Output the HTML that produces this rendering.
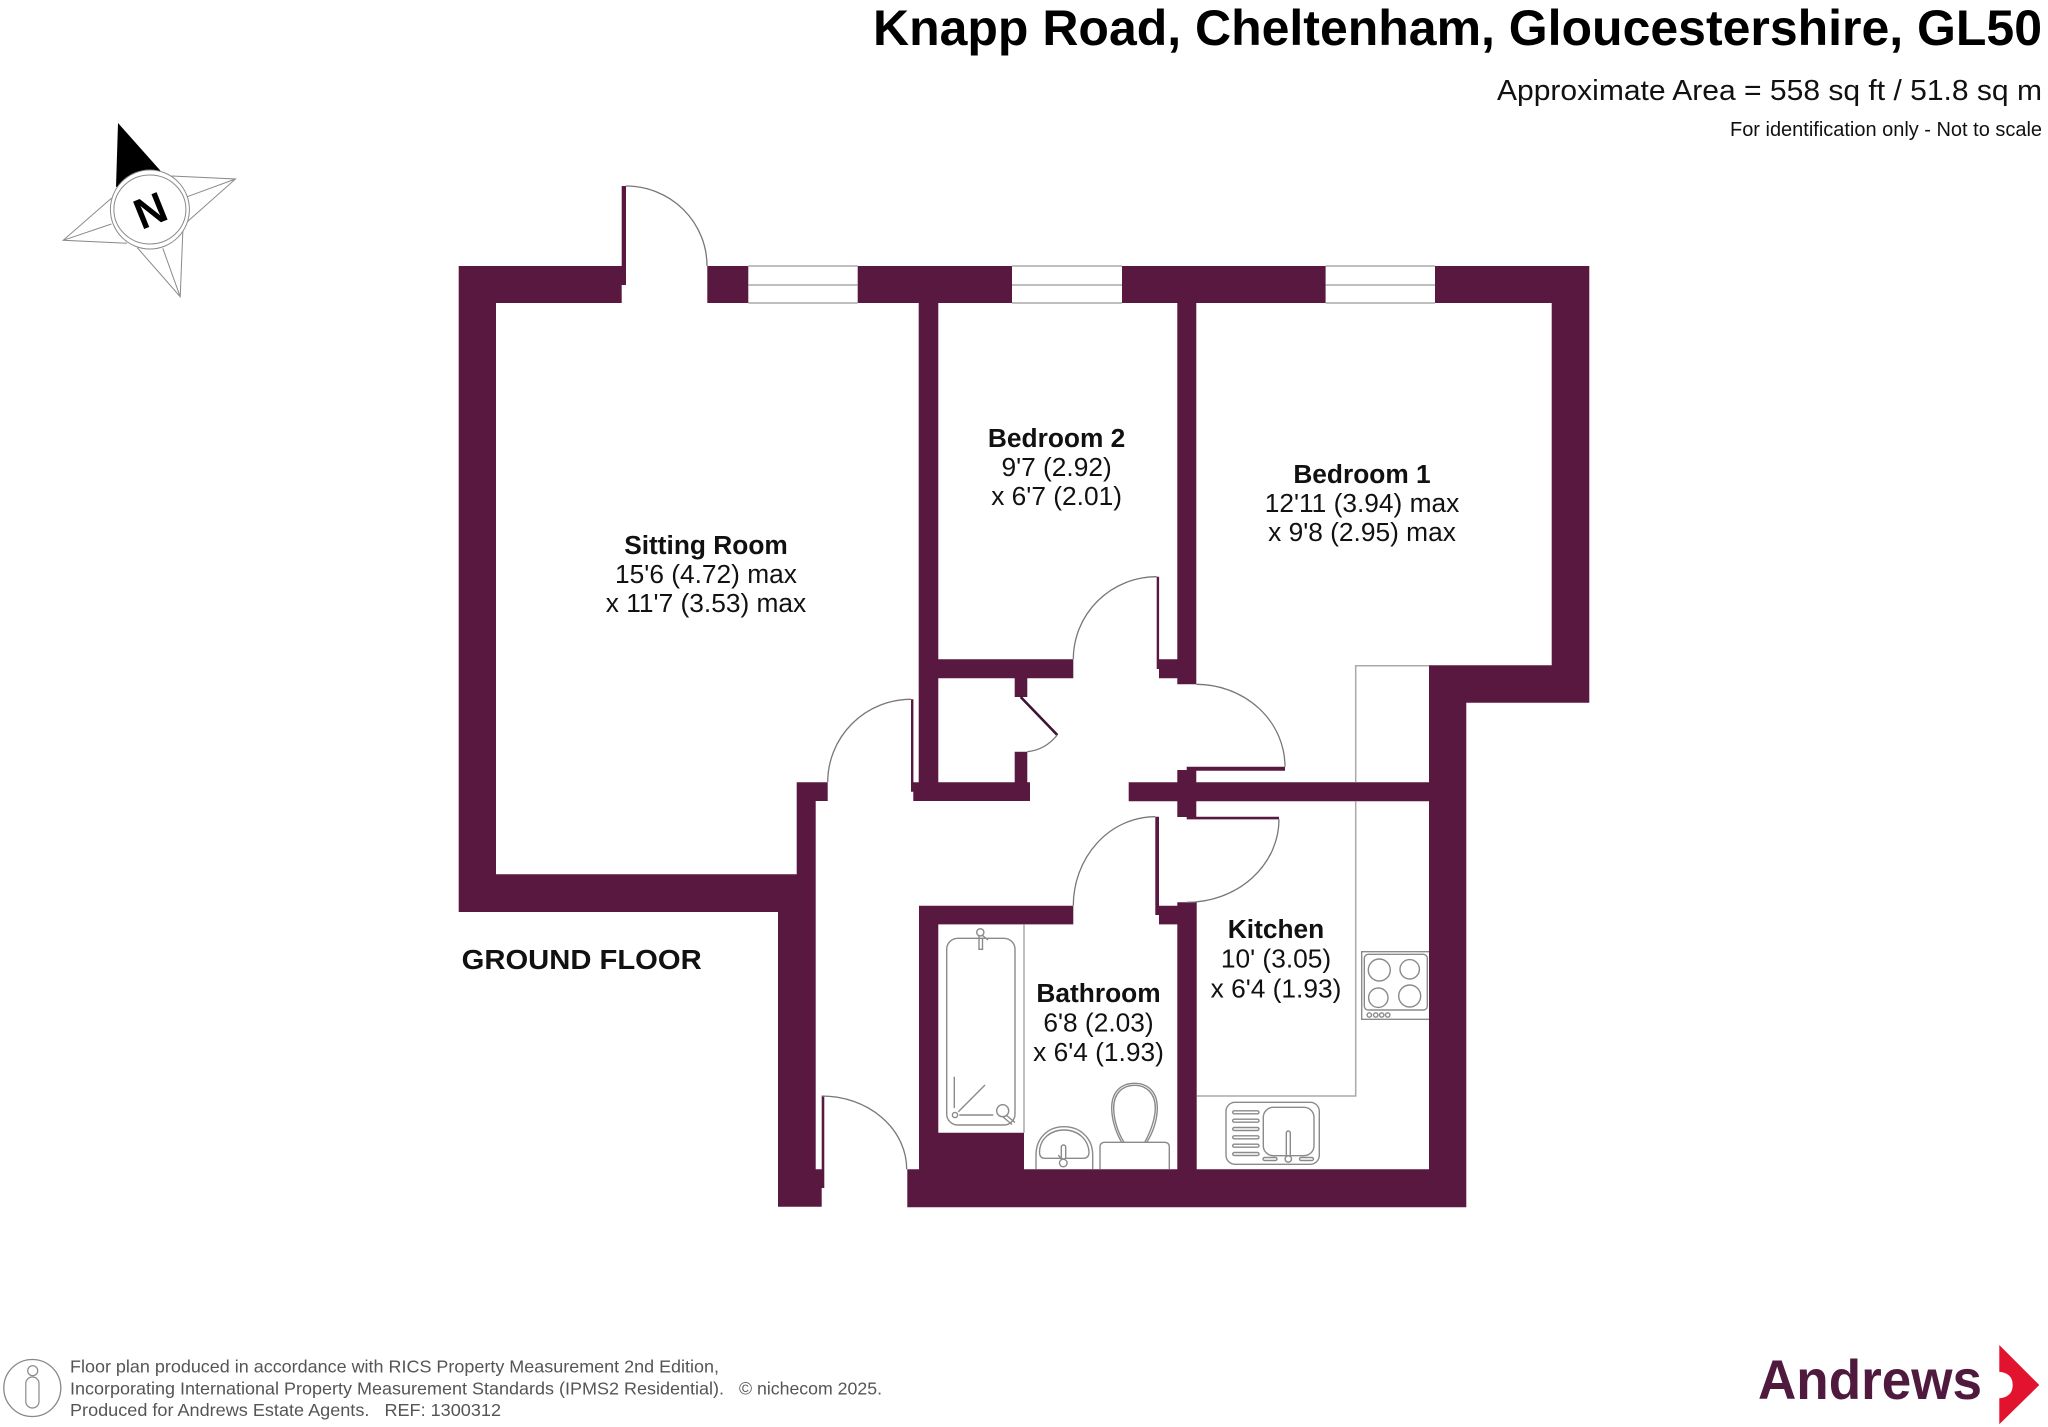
<!DOCTYPE html>
<html lang="en">
<head>
<meta charset="utf-8">
<title>Knapp Road floor plan</title>
<style>
html,body{margin:0;padding:0;background:#fff;width:2048px;height:1427px;overflow:hidden}
svg{display:block}
text{font-family:"Liberation Sans",Arial,sans-serif;fill:#111}
.b{font-weight:700}
.r{font-size:26.3px;text-anchor:middle}
.f{font-size:17.6px;fill:#555}
.w{fill:#59183f}
.t{fill:none;stroke:#999;stroke-width:1.3}
.a{fill:none;stroke:#777;stroke-width:1.3}
.k{fill:none;stroke:#8a8a8a;stroke-width:1.4}
</style>
</head>
<body>
<svg width="2048" height="1427" viewBox="0 0 2048 1427" xmlns="http://www.w3.org/2000/svg">
<rect width="2048" height="1427" fill="#fff"/>

<!-- Header -->
<text class="b" x="873" y="45" font-size="50" textLength="1169" lengthAdjust="spacingAndGlyphs" style="fill:#000">Knapp Road, Cheltenham, Gloucestershire, GL50</text>
<text x="1497" y="100" font-size="29" textLength="545" lengthAdjust="spacingAndGlyphs">Approximate Area = 558 sq ft / 51.8 sq m</text>
<text x="1730" y="136" font-size="20" textLength="312" lengthAdjust="spacingAndGlyphs">For identification only - Not to scale</text>

<!-- Compass -->
<g fill="none" stroke="#8a8a8a" stroke-width="1">
<path d="M171.7,176 L235.5,179 L187.3,221.7 M187.3,196.7 L235.5,179"/>
<path d="M111.4,198.3 L63.2,240.3 L127,243.3 M111.4,224 L63.2,240.3"/>
<path d="M137.3,247.7 L180.2,296.7 L182.9,230 M162.8,248.3 L180.2,296.7"/>
</g>
<path d="M118,123 L160.5,170.7 L116,187 Z" fill="#000"/>
<ellipse cx="149.9" cy="209.5" rx="39.5" ry="39.5" fill="#fff" stroke="#8a8a8a" stroke-width="1"/>
<ellipse cx="149.9" cy="209.5" rx="36" ry="34.5" fill="#fff" stroke="#8a8a8a" stroke-width="1"/>
<text class="b" x="149.9" y="225.5" font-size="43" text-anchor="middle" transform="rotate(-22 149.9 209.5)" style="fill:#000">N</text>

<!-- Walls (single merged path) -->
<path class="w" d="
M458.7,266h163v37h-163z
M621.7,186h4.3v99h-4.3z
M458.7,266h37.3v646h-37.3z
M707.3,266h41v37h-41z
M857.7,266h154.3v37h-154.3z
M1122,266h203.6v37h-203.6z
M1435,266h154.3v37h-154.3z
M1551.7,266h37.6v436.7h-37.6z
M1429,665.3h160.3v37.4h-160.3z
M1429,665.3h37.3v542h-37.3z
M458.7,874.3h357v37.7h-357z
M778,874.3h37.7v332.4h-37.7z
M796.7,782.3h19v100h-19z
M796.7,782.3h31v18.7h-31z
M815,1169.3h6.7v37.4h-6.7z
M821.7,1096h2.6v92h-2.6z
M918.7,266h19.6v535h-19.6z
M938,659.3h135.3v19h-135.3z
M1014.7,678h12.6v19h-12.6z
M1014.7,751.7h12.6v31h-12.6z
M913.3,782.3h116.7v18.7h-116.7z
M911,699.3h2.4v92.4h-2.4z
M1177.3,266h19v418.3h-19z
M1159,659.3h20v19h-20z
M1156.7,576.7h2.4v92.3h-2.4z
M1128.7,782.3h300.6v19h-300.6z
M1177.3,770h19v47h-19z
M1186.7,766.7h98.3v4h-98.3z
M1186.7,816.7h92.3v2.7h-92.3z
M919,905.7h154.3v18.7h-154.3z
M919,905.7h19.3v300h-19.3z
M1155.3,816.7h3.7v98.3h-3.7z
M1159,905.7h20v18.7h-20z
M1177.3,902.3h19.4v304h-19.4z
M938,1132.7h86v37h-86z
M907.3,1169.3h559v38h-559z"/>
<path d="M1020.7,697 L1057.3,735" stroke="#3d1330" stroke-width="2.6" fill="none"/>

<!-- Windows -->
<path class="t" d="M748.3,266H857.7M748.3,285H857.7M748.3,303H857.7M1012,266H1122M1012,285H1122M1012,303H1122M1325.6,266H1435M1325.6,285H1435M1325.6,303H1435"/>

<!-- Door arcs -->
<g class="a">
<path d="M626,186 A81,80 0 0 1 707,266"/>
<path d="M911,699.3 A83.3,83 0 0 0 827.7,782.3"/>
<path d="M1156.7,576.7 A83.4,82.6 0 0 0 1073.3,659.3"/>
<path d="M1196.3,684.3 A88.7,82.4 0 0 1 1285,766.7"/>
<path d="M1279,819.3 A92,83 0 0 1 1187,902.3"/>
<path d="M1155.3,816.7 A82,89 0 0 0 1073.3,905.7"/>
<path d="M821.7,1096 A85,73.3 0 0 1 906.7,1169.3"/>
<path d="M1057.3,735 Q1045,750 1027.3,751.7"/>
</g>

<!-- Kitchen counter lines -->
<path d="M1429,665.7H1355.7V782.3M1355.7,801V1096H1196.7M1024,924.3V1132.7" fill="none" stroke="#aaa" stroke-width="1.5"/>

<!-- Hob -->
<g class="k">
<path d="M1429,951.7H1361.7V1019.3H1429"/>
<rect x="1364.3" y="954.3" width="63" height="55.7" rx="4"/>
<circle cx="1379.3" cy="970" r="11"/>
<circle cx="1409.7" cy="969.3" r="9.7"/>
<circle cx="1378.3" cy="997.7" r="9.7"/>
<circle cx="1409.7" cy="996" r="11"/>
<circle cx="1369.3" cy="1015" r="2.2"/>
<circle cx="1375.7" cy="1015" r="2.2"/>
<circle cx="1381.7" cy="1015" r="2.2"/>
<circle cx="1387.7" cy="1015" r="2.2"/>
</g>

<!-- Kitchen sink -->
<g class="k">
<rect x="1226" y="1102.3" width="93.3" height="62" rx="9"/>
<rect x="1263.3" y="1107.3" width="50.7" height="48.4" rx="10"/>
<rect x="1232.7" y="1110.8" width="26.3" height="3" rx="1.5"/>
<rect x="1232.7" y="1119.2" width="26.3" height="3" rx="1.5"/>
<rect x="1232.7" y="1127.5" width="26.3" height="3" rx="1.5"/>
<rect x="1232.7" y="1135.8" width="26.3" height="3" rx="1.5"/>
<rect x="1232.7" y="1144.2" width="26.3" height="3" rx="1.5"/>
<rect x="1232.7" y="1152.5" width="26.3" height="3" rx="1.5"/>
<rect x="1286.3" y="1131" width="4" height="25" rx="2"/>
<circle cx="1288.3" cy="1159" r="3.2" fill="#fff"/>
<rect x="1263" y="1157.5" width="14" height="3" rx="1.5"/>
<rect x="1299.5" y="1157.5" width="14" height="3" rx="1.5"/>
</g>

<!-- Bath -->
<g class="k">
<rect x="946.7" y="938.3" width="68.3" height="186.7" rx="11"/>
<circle cx="980.3" cy="932.3" r="3.6" fill="#fff"/>
<path d="M979,936V949.3H982.5V938M982,935L988,940"/>
<path d="M954.3,1076.7V1108M958.3,1111.7L985,1085M959.3,1115H993.3"/>
<circle cx="955" cy="1115" r="2.6"/>
<circle cx="1002.7" cy="1110.7" r="6" fill="#fff"/>
<path d="M1006,1115L1015,1122.5M1003,1117L1012,1124.5"/>
</g>

<!-- Basin and WC -->
<g class="k">
<path d="M1036,1169.3V1155C1036,1138 1048,1126.7 1064,1126.7C1080,1126.7 1092.7,1138 1092.7,1155V1169.3"/>
<path d="M1039.5,1152C1040,1139 1050,1130 1064,1130C1078,1130 1088,1139 1089,1152C1089,1156 1087,1158.3 1083,1158.3H1045C1041,1158.3 1039.5,1156 1039.5,1152Z"/>
<rect x="1061.3" y="1145" width="4.4" height="14" rx="2" fill="#fff"/>
<path d="M1058.3,1155L1062,1160"/>
<circle cx="1063.3" cy="1163" r="3.8" fill="#fff"/>
<path d="M1121.7,1142.3C1115,1131 1111.7,1118 1111.7,1108C1111.7,1092 1121,1083.3 1134.5,1083.3C1148,1083.3 1157.3,1092 1157.3,1108C1157.3,1118 1154,1131 1146.7,1142.3"/>
<path d="M1124,1142.3C1117,1131 1113.7,1118 1113.7,1108C1113.7,1094 1122,1085.3 1134.5,1085.3C1147,1085.3 1155.3,1094 1155.3,1108C1155.3,1118 1151,1131 1144.7,1142.3"/>
<path d="M1100,1169V1147Q1100,1142.3 1105,1142.3H1164.3Q1169.3,1142.3 1169.3,1147V1169"/>
</g>

<!-- Room labels -->
<text class="b r" x="706" y="554">Sitting Room</text>
<text class="r" x="706" y="583">15'6 (4.72) max</text>
<text class="r" x="706" y="612">x 11'7 (3.53) max</text>

<text class="b r" x="1056.6" y="447">Bedroom 2</text>
<text class="r" x="1056.6" y="476">9'7 (2.92)</text>
<text class="r" x="1056.6" y="505">x 6'7 (2.01)</text>

<text class="b r" x="1362" y="483">Bedroom 1</text>
<text class="r" x="1362" y="512">12'11 (3.94) max</text>
<text class="r" x="1362" y="541">x 9'8 (2.95) max</text>

<text class="b r" x="1098.5" y="1002">Bathroom</text>
<text class="r" x="1098.5" y="1031.5">6'8 (2.03)</text>
<text class="r" x="1098.5" y="1061">x 6'4 (1.93)</text>

<text class="b r" x="1276" y="938">Kitchen</text>
<text class="r" x="1276" y="967.7">10' (3.05)</text>
<text class="r" x="1276" y="997.3">x 6'4 (1.93)</text>

<text class="b" x="461.7" y="969" font-size="28" textLength="240" lengthAdjust="spacingAndGlyphs">GROUND FLOOR</text>

<!-- Footer -->
<ellipse cx="32.3" cy="1388" rx="28.5" ry="28.5" fill="none" stroke="#888" stroke-width="1.3"/>
<circle cx="32.7" cy="1370.7" r="5" fill="none" stroke="#888" stroke-width="1.2"/>
<rect x="25.8" y="1377" width="13.2" height="31" rx="6.5" fill="none" stroke="#888" stroke-width="1.2"/>
<text class="f" x="70" y="1372.5" textLength="649" lengthAdjust="spacingAndGlyphs">Floor plan produced in accordance with RICS Property Measurement 2nd Edition,</text>
<text class="f" x="70" y="1394.5" textLength="654" lengthAdjust="spacingAndGlyphs">Incorporating International Property Measurement Standards (IPMS2 Residential).</text>
<text class="f" x="739" y="1394.5" textLength="143" lengthAdjust="spacingAndGlyphs">© nichecom 2025.</text>
<text class="f" x="70" y="1416" textLength="431" lengthAdjust="spacingAndGlyphs" xml:space="preserve">Produced for Andrews Estate Agents.   REF: 1300312</text>

<!-- Logo -->
<text class="b" x="1758" y="1399" font-size="56" textLength="224" lengthAdjust="spacingAndGlyphs" style="fill:#4f1a3e">Andrews</text>
<path d="M1999.3,1345 L2039.3,1385 L1999.3,1424.3 V1398.3 Q2012.7,1397 2012.7,1385 Q2012.7,1373 1999.3,1371.7 Z" fill="#e2132f"/>
</svg>
</body>
</html>
